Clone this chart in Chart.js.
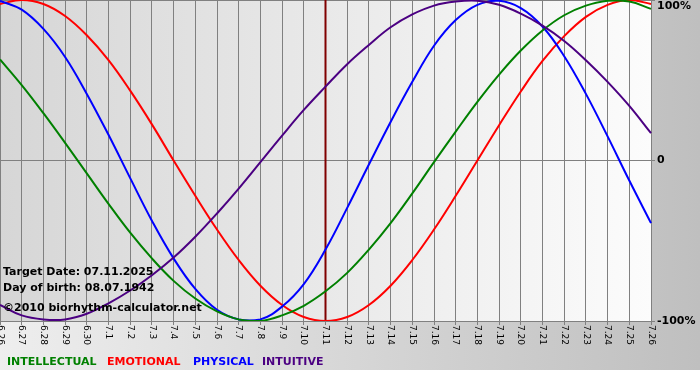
<!DOCTYPE html>
<html>
<head>
<meta charset="utf-8">
<script src="https://cdn.jsdelivr.net/npm/chart.js@4.4.1/dist/chart.umd.min.js"></script>
<style>
  html, body { margin: 0; padding: 0; background: #ffffff; }
  #wrap { position: relative; width: 700px; height: 380px; overflow: hidden; }
  #c { position: absolute; left: 0; top: 0; }
  .t { position: absolute; font-family: "DejaVu Sans", Verdana, sans-serif; font-weight: bold;
       font-size: 11px; line-height: 13px; white-space: nowrap; }
</style>
</head>
<body>
<div id="wrap">
  <canvas id="c" width="700" height="380"></canvas>
  <div class="t" style="left:3px;top:265px;color:#000">Target Date: 07.11.2025</div>
  <div class="t" style="left:3px;top:281px;color:#000">Day of birth: 08.07.1942</div>
  <div class="t" style="left:3px;top:301px;color:#000">©2010 biorhythm-calculator.net</div>
  <div class="t" style="left:7px;top:355px;color:#008000">INTELLECTUAL</div>
  <div class="t" style="left:107px;top:355px;color:#ff0000">EMOTIONAL</div>
  <div class="t" style="left:193px;top:355px;color:#0000ff">PHYSICAL</div>
  <div class="t" style="left:262px;top:355px;color:#4b0082">INTUITIVE</div>
</div>
<script>
// Day labels (6.26 .. 7.26)
const dayLabels = ["6.26","6.27","6.28","6.29","6.30","7.1","7.2","7.3","7.4","7.5","7.6","7.7","7.8","7.9","7.10",
  "7.11","7.12","7.13","7.14","7.15","7.16","7.17","7.18","7.19","7.20","7.21","7.22","7.23","7.24","7.25","7.26"];

// Series values (fraction of 100%)
const intellectual = [0.63,0.47,0.295,0.11,-0.08,-0.27,-0.45,-0.61,-0.75,-0.86,-0.94,-0.99,-1.0,-0.965,-0.905,
  -0.815,-0.70,-0.555,-0.39,-0.205,-0.01,0.18,0.365,0.535,0.685,0.81,0.905,0.965,0.995,0.99,0.945];
const emotional = [0.975,1.0,0.975,0.90,0.78,0.625,0.435,0.225,0.0,-0.22,-0.43,-0.62,-0.78,-0.90,-0.975,
  -1.0,-0.975,-0.90,-0.78,-0.62,-0.43,-0.22,0.0,0.22,0.43,0.62,0.775,0.895,0.97,1.0,0.975];
const physical = [0.995,0.94,0.82,0.645,0.415,0.16,-0.11,-0.375,-0.61,-0.80,-0.93,-0.99,-0.99,-0.91,-0.77,
  -0.555,-0.295,-0.025,0.24,0.49,0.715,0.875,0.97,0.995,0.95,0.835,0.65,0.415,0.15,-0.125,-0.39];
const intuitive = [-0.90,-0.965,-0.99,-0.99,-0.955,-0.89,-0.81,-0.715,-0.605,-0.475,-0.33,-0.175,-0.01,0.155,0.315,
  0.46,0.60,0.72,0.83,0.91,0.965,0.99,0.995,0.97,0.915,0.84,0.745,0.625,0.49,0.34,0.17];

const yTickLabels = {"1": ["", "100%"], "0": "0", "-1": "-100%"};
const targetLabel = "7.11";

const bgPlugin = {
  id: 'bg',
  beforeDraw(chart) {
    const {ctx, chartArea: a} = chart;
    ctx.save();
    ctx.fillStyle = '#ffffff';
    ctx.fillRect(0, 0, chart.width, chart.height);
    let g = ctx.createLinearGradient(0, 0, chart.width, 0);
    g.addColorStop(0, '#eeeeee');
    g.addColorStop(1, '#bfbfbf');
    ctx.fillStyle = g;
    ctx.fillRect(0, 0, chart.width, 370);
    g = ctx.createLinearGradient(a.left, 0, a.right, 0);
    g.addColorStop(0, '#d6d6d6');
    g.addColorStop(1, '#fcfcfc');
    ctx.fillStyle = g;
    ctx.fillRect(a.left, a.top, a.right - a.left, a.bottom - a.top);
    ctx.restore();
  },
  beforeDatasetsDraw(chart) {
    const {ctx, chartArea: a, scales: {x}} = chart;
    const px = x.getPixelForValue(dayLabels.indexOf(targetLabel));
    ctx.save();
    ctx.strokeStyle = '#800000';
    ctx.lineWidth = 2;
    ctx.beginPath();
    ctx.moveTo(px, a.top);
    ctx.lineTo(px, a.bottom);
    ctx.stroke();
    ctx.restore();
  },
  afterDraw(chart) {
    const {ctx, scales: {x}} = chart;
    ctx.save();
    ctx.fillStyle = '#000000';
    ctx.font = '9px "DejaVu Sans", Verdana, sans-serif';
    ctx.textAlign = 'left';
    ctx.textBaseline = 'middle';
    dayLabels.forEach((lab, i) => {
      const px = x.getPixelForTick(i);
      ctx.save();
      ctx.translate(px, x.top + 4);
      ctx.rotate(Math.PI / 2);
      ctx.fillText(lab, 0, 0);
      ctx.restore();
    });
    ctx.restore();
  }
};

const mk = (label, data, color) => ({
  label, data, borderColor: color, backgroundColor: color,
  borderWidth: 2, pointRadius: 0, tension: 0.4, fill: false
});

new Chart(document.getElementById('c'), {
  type: 'line',
  data: {
    labels: dayLabels,
    datasets: [
      mk('INTUITIVE', intuitive, '#4b0082'),
      mk('INTELLECTUAL', intellectual, '#008000'),
      mk('PHYSICAL', physical, '#0000ff'),
      mk('EMOTIONAL', emotional, '#ff0000')
    ]
  },
  options: {
    responsive: false,
    animation: false,
    devicePixelRatio: 1,
    layout: { padding: 0 },
    plugins: { legend: { display: false }, tooltip: { enabled: false } },
    scales: {
      x: {
        type: 'category',
        offset: false,
        grid: { color: '#808080', lineWidth: 1, tickLength: 4, drawTicks: true },
        border: { display: true, color: '#808080' },
        ticks: { display: false, autoSkip: false },
        afterFit(s) { s.height = 59; s.paddingLeft = 0; s.paddingRight = 0; }
      },
      y: {
        position: 'right',
        min: -1, max: 1,
        grid: { color: '#808080', lineWidth: 1, tickLength: 4 },
        border: { display: true, color: '#808080' },
        ticks: {
          stepSize: 1,
          padding: 2,
          color: '#000000',
          font: { family: '"DejaVu Sans", Verdana, sans-serif', weight: 'bold', size: 11, lineHeight: 1.2 },
          callback: (v) => yTickLabels[String(v)]
        },
        afterFit(s) { s.width = 49; s.paddingTop = 0; s.paddingBottom = 0; }
      }
    }
  },
  plugins: [bgPlugin]
});
</script>
</body>
</html>
